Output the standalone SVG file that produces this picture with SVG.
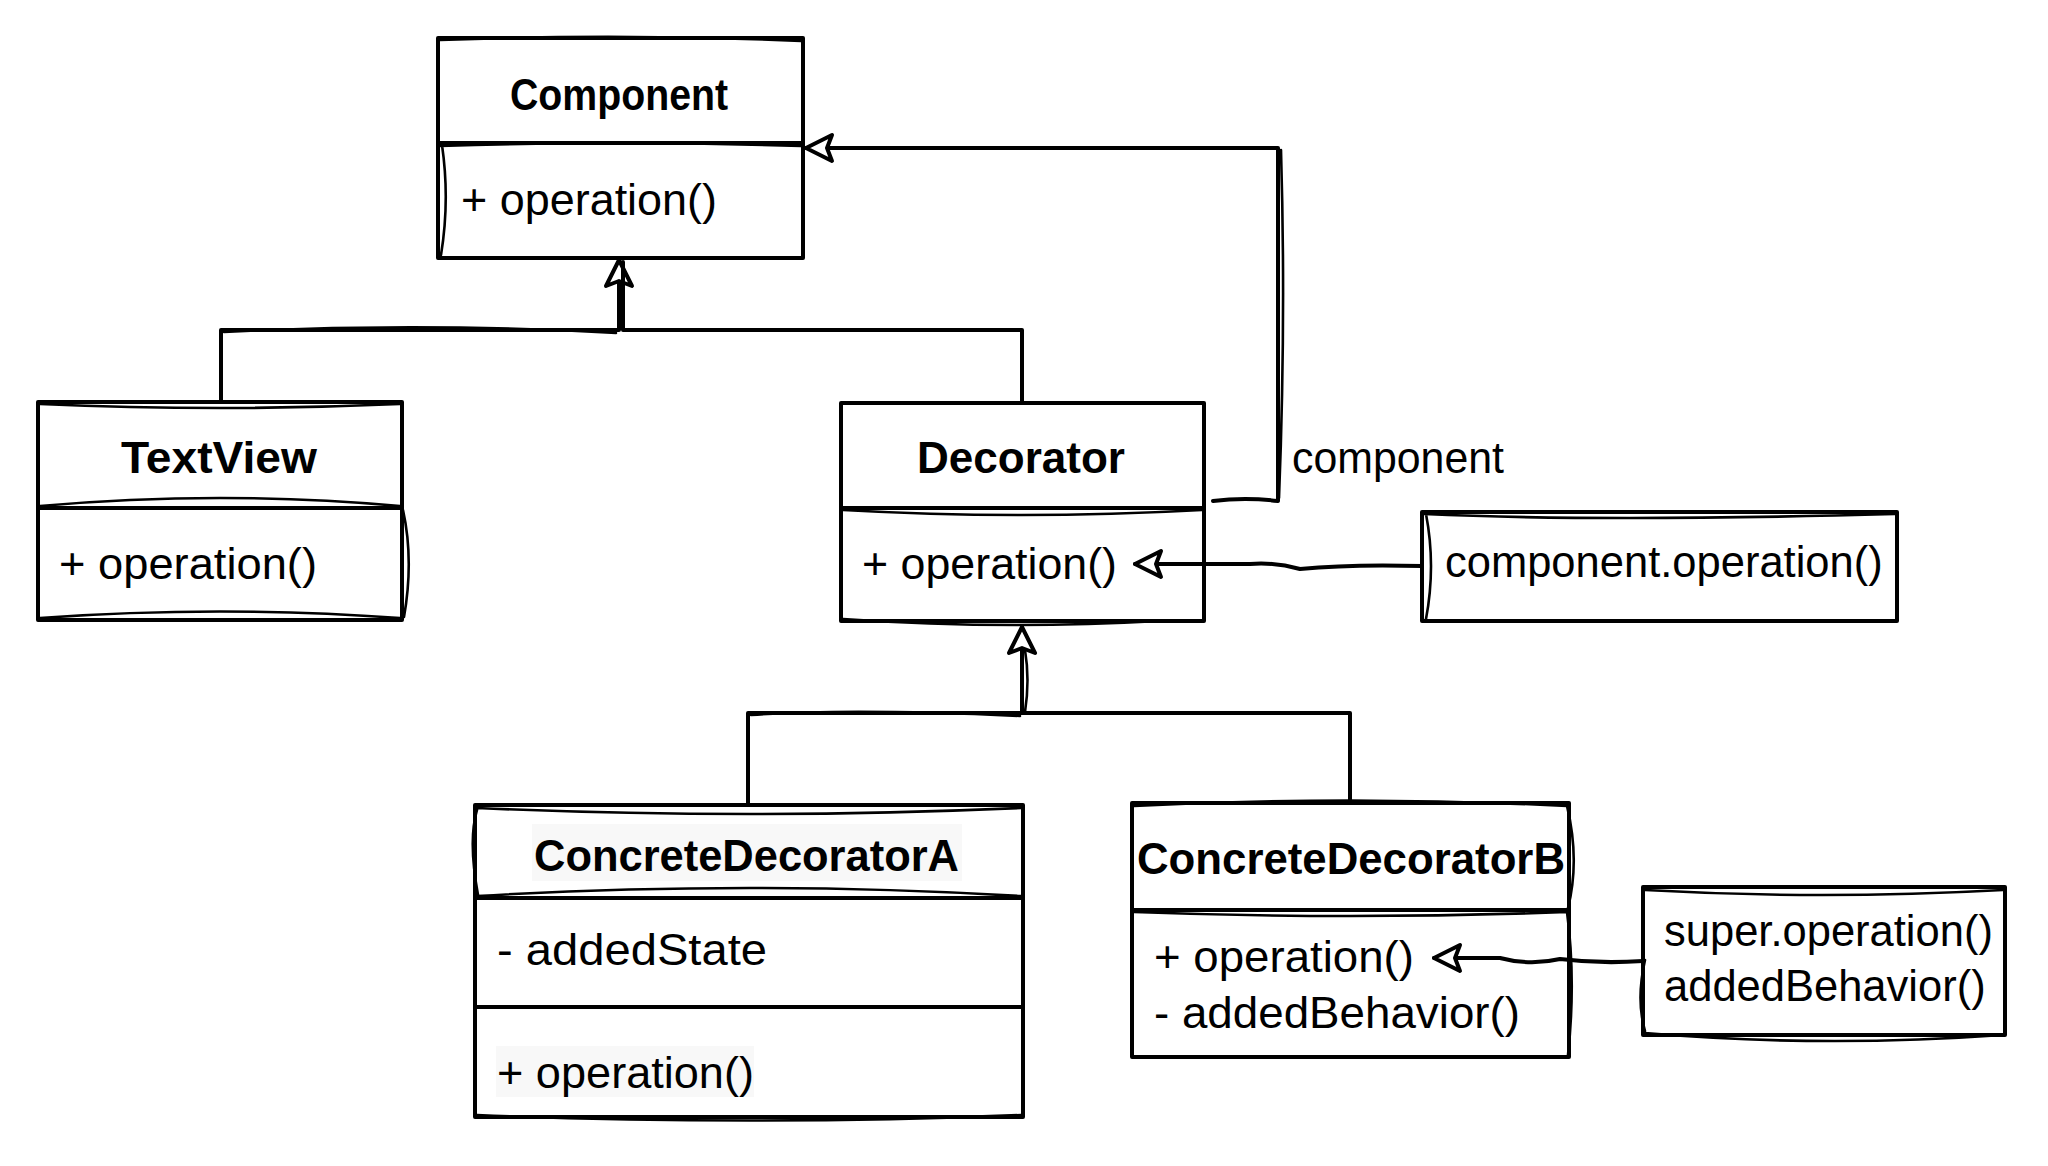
<svg xmlns="http://www.w3.org/2000/svg" width="2048" height="1166" viewBox="0 0 2048 1166">
<style>
.box{fill:#fff;stroke:#000;stroke-width:4;stroke-linejoin:round}
.sk{fill:none;stroke:#000;stroke-width:2.6;stroke-linecap:round}
.ln{fill:none;stroke:#000;stroke-width:4;stroke-linejoin:round;stroke-linecap:round}
.t{font-family:"Liberation Sans",Arial,sans-serif;font-size:45px;fill:#000}
.b{font-family:"Liberation Sans",Arial,sans-serif;font-size:45px;font-weight:bold;fill:#000;text-anchor:middle}
.n{font-family:"Liberation Sans",Arial,sans-serif;font-size:43.5px;fill:#000}
.bg{fill:#f8f8f8;stroke:none}
</style>
<defs>
<marker id="tri" viewBox="0 0 32 32" refX="29" refY="16" markerWidth="32" markerHeight="32" markerUnits="userSpaceOnUse" orient="auto">
<path d="M3,3 L29,16 L3,29 L8,16 Z" fill="#fff" stroke="#000" stroke-width="4" stroke-linejoin="round"/>
</marker>
</defs>
<rect width="2048" height="1166" fill="#fff"/>

<g id="component">
<rect class="box" x="438" y="38" width="365" height="220"/>
<path class="ln" d="M438,143 H803"/>
<path class="sk" d="M440,40 Q620,33 801,41 M440,146 Q620,140 801,146 M442,145 Q450,200 441,255"/>
<text class="b" x="619" y="110" textLength="218" lengthAdjust="spacingAndGlyphs">Component</text>
<text class="t" x="461" y="215" textLength="256" lengthAdjust="spacingAndGlyphs">+ operation()</text>
</g>

<g id="textview">
<rect class="box" x="38" y="402" width="364" height="218"/>
<path class="ln" d="M38,508 H402"/>
<path class="sk" d="M40,404 Q220,412 400,404 M40,506 Q220,490 400,506 M40,618 Q220,605 400,618 M403,510 Q414,560 404,617"/>
<text class="b" x="219" y="473" textLength="196" lengthAdjust="spacingAndGlyphs">TextView</text>
<text class="t" x="59" y="579" textLength="258" lengthAdjust="spacingAndGlyphs">+ operation()</text>
</g>

<g id="decorator">
<rect class="box" x="841" y="403" width="363" height="218"/>
<path class="ln" d="M841,508 H1204"/>
<path class="sk" d="M843,510 Q1020,520 1202,510 M843,619 Q1000,630 1160,621"/>
<text class="b" x="1021" y="473" textLength="208" lengthAdjust="spacingAndGlyphs">Decorator</text>
<text class="t" x="862" y="579" textLength="255" lengthAdjust="spacingAndGlyphs">+ operation()</text>
</g>

<text id="label-component" class="t" x="1292" y="473" textLength="212" lengthAdjust="spacingAndGlyphs">component</text>

<g id="note-component-operation">
<rect class="box" x="1422" y="512" width="475" height="109"/>
<path class="sk" d="M1424,514 Q1600,522 1895,514 M1426,514 Q1436,566 1426,619"/>
<text class="n" x="1445" y="577">component.operation()</text>
</g>

<g id="concrete-decorator-a">
<rect class="box" x="475" y="805" width="548" height="312"/>
<path class="ln" d="M475,898 H1023 M475,1007 H1023"/>
<path class="sk" d="M477,808 Q750,820 1021,808 M477,896 Q750,880 1021,896 M477,1115 Q750,1126 1021,1115 M477,810 Q468,840 478,895"/>
<rect class="bg" x="532" y="824" width="430" height="57"/>
<rect class="bg" x="496" y="1046" width="258" height="51"/>
<text class="b" x="746.5" y="871" textLength="425" lengthAdjust="spacingAndGlyphs">ConcreteDecoratorA</text>
<text class="t" x="497" y="965" textLength="270" lengthAdjust="spacingAndGlyphs">- addedState</text>
<text class="t" x="497" y="1088" textLength="257" lengthAdjust="spacingAndGlyphs">+ operation()</text>
</g>

<g id="concrete-decorator-b">
<rect class="box" x="1132" y="803" width="437" height="254"/>
<path class="ln" d="M1132,910 H1569"/>
<path class="sk" d="M1134,806 Q1350,795 1567,806 M1134,912 Q1350,920 1567,912 M1567,806 Q1580,860 1568,908 M1567,912 Q1576,980 1568,1055"/>
<text class="b" x="1351" y="874" textLength="428" lengthAdjust="spacingAndGlyphs">ConcreteDecoratorB</text>
<text class="t" x="1154" y="972" textLength="260" lengthAdjust="spacingAndGlyphs">+ operation()</text>
<text class="t" x="1154" y="1028" textLength="366" lengthAdjust="spacingAndGlyphs">- addedBehavior()</text>
</g>

<g id="note-super">
<rect class="box" x="1643" y="887" width="362" height="148"/>
<path class="sk" d="M1645,890 Q1820,900 2003,890 M1645,1033 Q1820,1048 2003,1035 M1645,960 Q1636,1000 1645,1031"/>
<text class="n" x="1664" y="946">super.operation()</text>
<text class="n" x="1664" y="1001">addedBehavior()</text>
</g>

<g id="connectors">
<path class="ln" d="M221,402 V330 H619 V260" marker-end="url(#tri)"/>
<path class="ln" d="M1022,403 V330 H623 V262"/>
<path class="sk" d="M224,332 Q420,322 616,333"/>
<path class="ln" d="M1213,501 Q1245,497 1278,501 V148 H806" marker-end="url(#tri)"/>
<path class="sk" d="M1281,150 Q1286,320 1279,498"/>
<path class="ln" d="M1422,566 Q1350,564 1300,569 Q1275,562 1250,564 H1135" marker-end="url(#tri)"/>
<path class="ln" d="M748,805 V713 H1022 V627" marker-end="url(#tri)"/>
<path class="ln" d="M1350,803 V713 H1022"/>
<path class="sk" d="M1025,712 Q1030,680 1025,650"/>
<path class="sk" d="M751,715 Q850,708 1020,716"/>
<path class="ln" d="M1643,961 Q1600,964 1560,959 Q1530,966 1500,958 H1434" marker-end="url(#tri)"/>
</g>
</svg>
